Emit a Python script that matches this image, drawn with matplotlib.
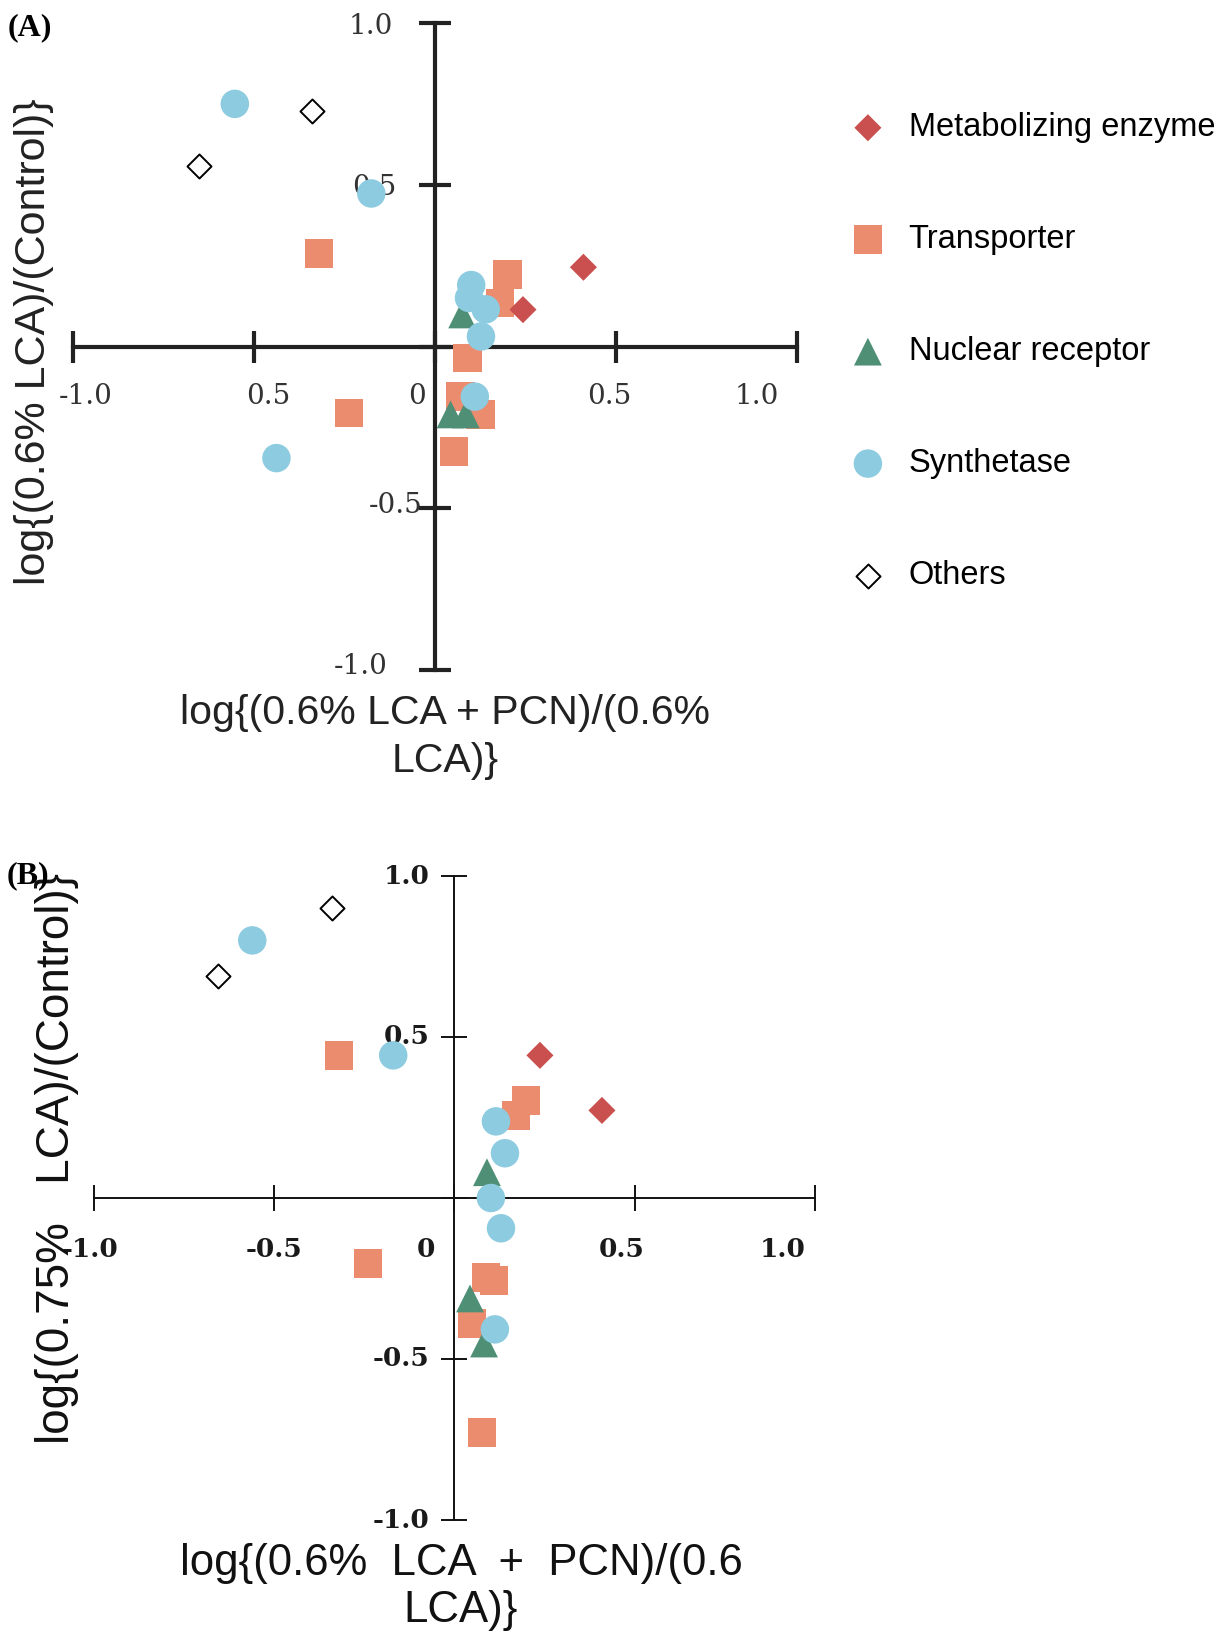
import matplotlib
matplotlib.use("Agg")
import matplotlib.pyplot as plt

# ---- data ----
categories = ["Metabolizing enzyme", "Transporter", "Nuclear receptor", "Synthetase", "Others"]

# panel A: x = log{(0.6% LCA + PCN)/(0.6% LCA)}, y = log{(0.6% LCA)/(Control)}
a_metab_x = [0.41, 0.243]
a_metab_y = [0.245, 0.114]
a_trans_x = [-0.32, -0.237, 0.20, 0.18, 0.09, 0.07, 0.126, 0.052]
a_trans_y = [0.287, -0.206, 0.223, 0.135, -0.035, -0.154, -0.21, -0.324]
a_nucl_x = [0.075, 0.043, 0.085]
a_nucl_y = [0.099, -0.21, -0.21]
a_synth_x = [-0.553, -0.176, -0.438, 0.10, 0.094, 0.14, 0.127, 0.11]
a_synth_y = [0.75, 0.473, -0.345, 0.19, 0.15, 0.115, 0.031, -0.155]
a_other_x = [-0.652, -0.34]
a_other_y = [0.557, 0.728]

# panel B: x = log{(0.6% LCA + PCN)/(0.6% LCA)}, y = log{(0.75% LCA)/(Control)}
b_metab_x = [0.237, 0.409]
b_metab_y = [0.443, 0.272]
b_trans_x = [-0.321, -0.24, 0.198, 0.17, 0.087, 0.11, 0.049, 0.076]
b_trans_y = [0.443, -0.204, 0.303, 0.256, -0.247, -0.256, -0.39, -0.728]
b_nucl_x = [0.09, 0.043, 0.082]
b_nucl_y = [0.08, -0.312, -0.452]
b_synth_x = [-0.561, -0.17, 0.115, 0.14, 0.101, 0.129, 0.112]
b_synth_y = [0.80, 0.443, 0.238, 0.139, 0.0, -0.094, -0.408]
b_other_x = [-0.656, -0.341]
b_other_y = [0.689, 0.90]

ticks = [-1.0, -0.5, 0.0, 0.5, 1.0]
a_xticklabels = ["-1.0", "0.5", "0", "0.5", "1.0"]
a_yticks = [1.0, 0.5, -0.5, -1.0]
a_yticklabels = ["1.0", "0.5", "-0.5", "-1.0"]
b_xticklabels = ["-1.0", "-0.5", "0", "0.5", "1.0"]
b_yticks = [1.0, 0.5, -0.5, -1.0]
b_yticklabels = ["1.0", "0.5", "-0.5", "-1.0"]

# ---- styles ----
styles = {
    "Metabolizing enzyme": dict(marker="D", s=190, c="#c9504f", edgecolors="none", zorder=5),
    "Transporter": dict(marker="s", s=420, c="#ec8c6e", edgecolors="none", zorder=3),
    "Nuclear receptor": dict(marker="^", s=400, c="#4e8f76", edgecolors="none", zorder=4),
    "Synthetase": dict(marker="o", s=420, c="#8ccbe0", edgecolors="none", zorder=4.5),
    "Others": dict(marker="D", s=150, c="white", edgecolors="black", linewidths=1.4, zorder=5),
}

W, H = 1231, 1634
fig = plt.figure(figsize=(W / 100, H / 100), dpi=100)


def make_axes(rect, lw, ticklen, color):
    ax = fig.add_axes(rect)
    ax.set_xlim(-1, 1)
    ax.set_ylim(-1, 1)
    for side in ["top", "right"]:
        ax.spines[side].set_visible(False)
    ax.spines["left"].set_position(("data", 0))
    ax.spines["bottom"].set_position(("data", 0))
    for side in ["left", "bottom"]:
        ax.spines[side].set_linewidth(lw)
        ax.spines[side].set_color(color)
    ax.set_xticks(ticks)
    ax.set_yticks(ticks)
    ax.set_xticklabels([])
    ax.set_yticklabels([])
    ax.tick_params(direction="inout", length=ticklen, width=lw, color=color)
    ax.patch.set_alpha(0)
    return ax


def draw_points(ax, groups):
    handles = []
    for name, (xs, ys) in zip(categories, groups):
        h = ax.scatter(xs, ys, label=name, clip_on=False, **styles[name])
        handles.append(h)
    return handles


# panel A
axA = make_axes([73 / W, 1 - 670 / H, 724 / W, 647 / H], 3.0, 23, "#222222")
handles = draw_points(axA, [(a_metab_x, a_metab_y), (a_trans_x, a_trans_y),
                            (a_nucl_x, a_nucl_y), (a_synth_x, a_synth_y),
                            (a_other_x, a_other_y)])

a_xlab_shift = [0.035, 0.04, -0.05, -0.02, -0.11]
for t, lab, dx in zip(ticks, a_xticklabels, a_xlab_shift):
    axA.text(t + dx, -0.155, lab, ha="center", va="center", fontsize=20,
             family="DejaVu Serif", color="#333333", zorder=1)
a_ylab_x = [-0.177, -0.168, -0.11, -0.205]
for t, lab, xx in zip(a_yticks, a_yticklabels, a_ylab_x):
    axA.text(xx, t - 0.01 if t > 0 else t + 0.01, lab, ha="center", va="center", fontsize=20,
             family="DejaVu Serif", color="#333333", zorder=1)

# panel B
axB = make_axes([94 / W, 1 - 1520 / H, 721 / W, 644 / H], 1.4, 19, "#111111")
draw_points(axB, [(b_metab_x, b_metab_y), (b_trans_x, b_trans_y),
                  (b_nucl_x, b_nucl_y), (b_synth_x, b_synth_y),
                  (b_other_x, b_other_y)])

b_xlab_shift = [-0.01, 0.0, -0.079, -0.035, -0.09]
for t, lab, dx in zip(ticks, b_xticklabels, b_xlab_shift):
    axB.text(t + dx, -0.159, lab, ha="center", va="center", fontsize=19, weight="bold",
             family="DejaVu Serif", color="#1a1a1a", zorder=1)
for t, lab in zip(b_yticks, b_yticklabels):
    axB.text(-0.07, t, lab, ha="right", va="center", fontsize=19, weight="bold",
             family="DejaVu Serif", color="#1a1a1a", zorder=1)

# axis titles
sans = "Liberation Sans"
fig.text(445 / W, 1 - 737 / H, "log{(0.6% LCA + PCN)/(0.6%\nLCA)}", ha="center", va="center",
         fontsize=29.5, family=sans, linespacing=1.3, color="#222222")
fig.text(34 / W, 1 - 342 / H, "log{(0.6% LCA)/(Control)}", rotation=90, ha="center", va="center",
         fontsize=31, family=sans, color="#222222")
fig.text(461 / W, 1 - 1587 / H, "log{(0.6%  LCA  +  PCN)/(0.6\nLCA)}", ha="center", va="center",
         fontsize=31.5, family=sans, linespacing=1.2, color="#111111")
fig.text(57 / W, 1 - 1159 / H, "log{(0.75%   LCA)/(Control)}", rotation=90, ha="center", va="center",
         fontsize=33, family=sans, color="#111111")

# panel letters
fig.text(8 / W, 1 - 28 / H, "(A)", ha="left", va="center", fontsize=23,
         family="Liberation Serif", weight="bold")
fig.text(7 / W, 1 - 876 / H, "(B)", ha="left", va="center", fontsize=23,
         family="Liberation Serif", weight="bold")

# legend
fig.legend(handles=handles, loc="upper left", bbox_to_anchor=(832 / W, 1 - 96 / H),
           frameon=False, labelspacing=2.48, handletextpad=0.65,
           handlelength=1.2, borderpad=0, scatterpoints=1,
           prop={"family": sans, "size": 23.5})

fig.savefig("out.png", dpi=100)
